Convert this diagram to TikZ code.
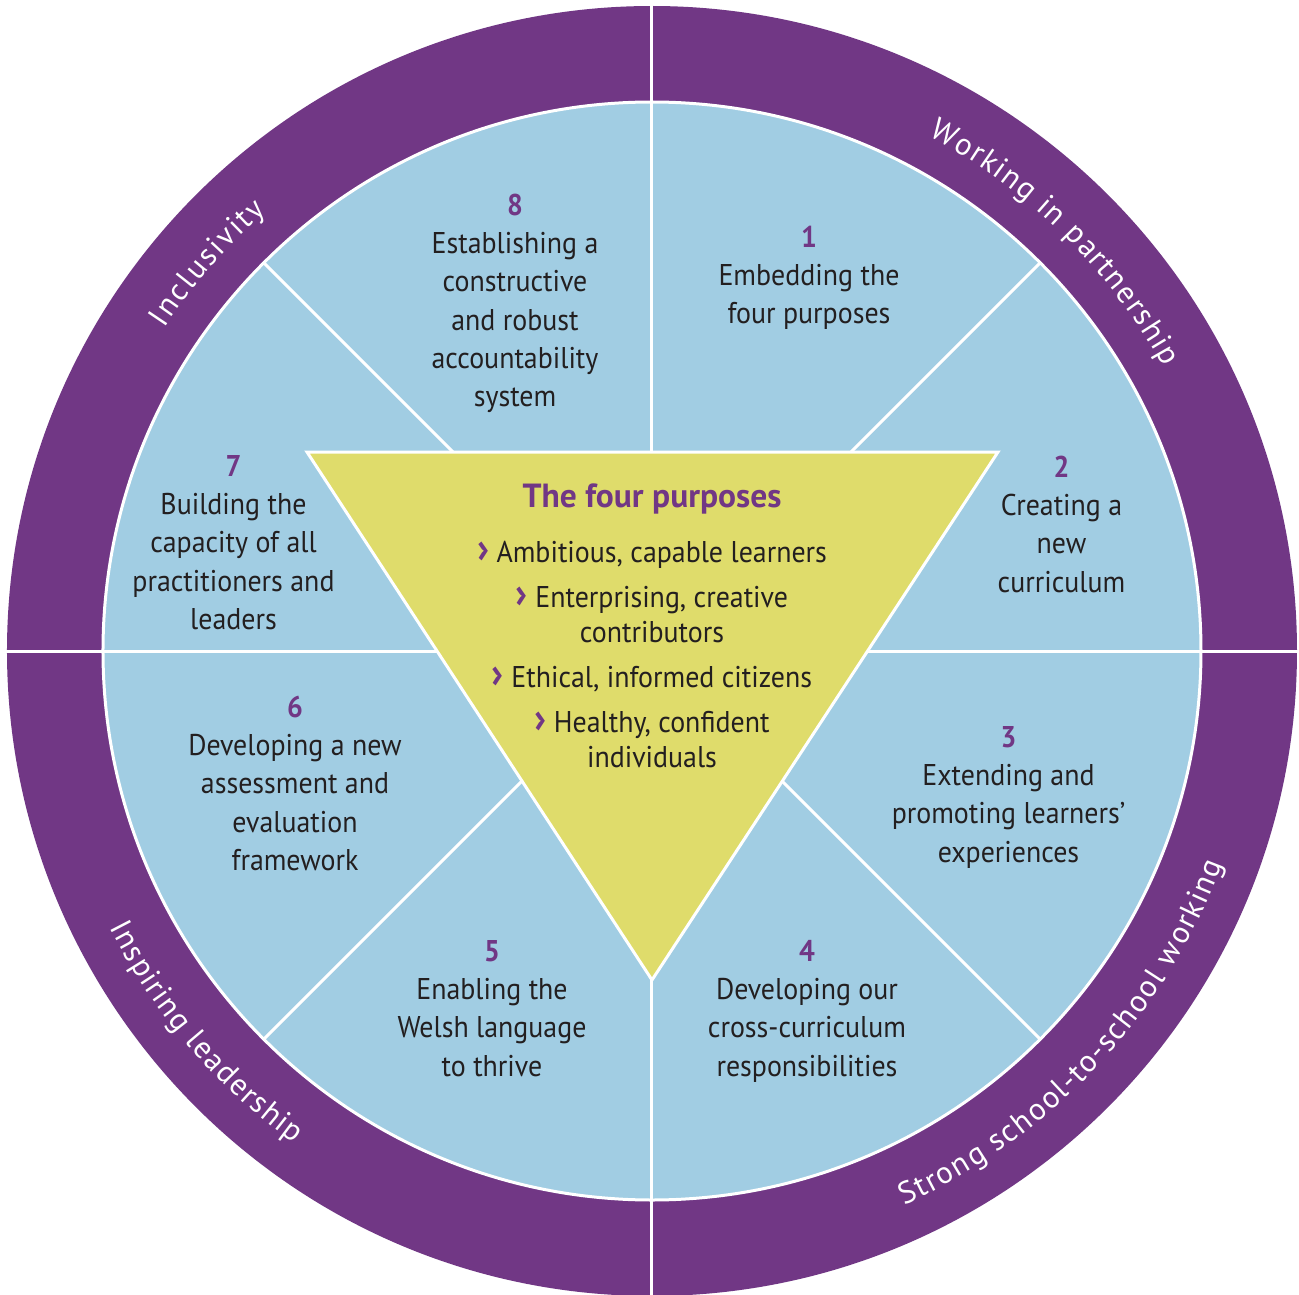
\documentclass[tikz,border=0pt]{standalone}
\usepackage{fontspec}
\setmainfont{PT Sans}[FakeStretch=0.93]
\newfontfamily\titlefam{PT Sans}
\newfontfamily\ringfam{PT Sans}
\usetikzlibrary{decorations.text}
\definecolor{ringpurple}{HTML}{713785}
\definecolor{sectorblue}{HTML}{A1CDE3}
\definecolor{triyellow}{HTML}{DFDC6B}
\definecolor{textdark}{HTML}{231F20}
\newcommand{\sectorfont}{\fontsize{30}{38.3}\selectfont}
\newcommand{\bulletfont}{\fontsize{30}{35}\selectfont}
\newcommand{\ringfont}{\ringfam\fontsize{31}{36}\selectfont}
\newcommand{\numtxt}[1]{\strut{\bfseries\color{ringpurple}#1}}
\newcommand{\chev}{{\fontsize{42}{35}\selectfont\bfseries\color{ringpurple}›}\ }
\tikzset{
  sectortext/.style={anchor=north, align=center, inner sep=0pt, font=\sectorfont, text=textdark},
  whiteline/.style={draw=white, line width=3pt},
  ringtext/.style={font=\ringfont, decorate, decoration={text effects along path, text={#1},
     text effects/.cd, fit text to path, text along path,
     characters={text=white, font=\ringfont}, character widths={font=\ringfont}}},
}
\begin{document}
\begin{tikzpicture}[x=1pt,y=1pt]
\useasboundingbox (-652,-643) rectangle (647,651);
\fill[white] (-652,-643) rectangle (647,651);
% outer ring
\fill[ringpurple] (0,0) circle[radius=645pt];
\fill[sectorblue, draw=white, line width=3pt] (0,0) circle[radius=549pt];
% dividers
\draw[whiteline] (0,-646) -- (0,646);
\draw[whiteline] (-646,0) -- (646,0);
\draw[whiteline] (135:549pt) -- (-45:549pt);
\draw[whiteline] (45:549pt) -- (225:549pt);
% triangle
\filldraw[fill=triyellow, draw=white, line width=3pt, line join=miter] (-345,199) -- (346,199) -- (0,-329) -- cycle;
% ring labels
\path[ringtext={Working in partnership}] (61.8:585pt) arc[start angle=61.8, end angle=29, radius=585pt];
\path[ringtext={Inclusivity}] (146.5:585pt) arc[start angle=146.5, end angle=131.3, radius=585pt];
\path[ringtext={Inspiring leadership}] (207:609pt) arc[start angle=207, end angle=234, radius=609pt];
\path[ringtext={Strong school-to-school working}] (-65.5:609pt) arc[start angle=-65.5, end angle=-20.5, radius=609pt];
% sector texts
\node[sectortext] (s8) at (-137,462.8) {\numtxt{8}\\\strut Establishing a\\\strut constructive\\\strut and robust\\\strut accountability\\\strut system};
\node[sectortext] (s1) at (157,430.8) {\numtxt{1}\\\strut Embedding the\\\strut four purposes};
\node[sectortext] (s2) at (409.5,200.8) {\numtxt{2}\\\strut Creating a\\\strut new\\\strut curriculum};
\node[sectortext] (s3) at (356.5,-69.2) {\numtxt{3}\\\strut Extending and\\\strut promoting learners’\\\strut experiences};
\node[sectortext] (s4) at (155,-283.2) {\numtxt{4}\\\strut Developing our\\\strut cross-curriculum\\\strut responsibilities};
\node[sectortext] (s5) at (-160,-283.2) {\numtxt{5}\\\strut Enabling the\\\strut Welsh language\\\strut to thrive};
\node[sectortext] (s6) at (-357,-39.2) {\numtxt{6}\\\strut Developing a new\\\strut assessment and\\\strut evaluation\\\strut framework};
\node[sectortext] (s7) at (-418.5,201.8) {\numtxt{7}\\\strut Building the\\\strut capacity of all\\\strut practitioners and\\\strut leaders};
% centre
\node[anchor=base, inner sep=0pt, font=\titlefam\fontsize{33.5}{38}\selectfont\bfseries, text=ringpurple] (title) at (0,144) {The four purposes};
\node[anchor=north, align=center, inner sep=0pt, font=\bulletfont, text=textdark] (purposes) at (0,113.5)
  {\strut\chev Ambitious, capable learners\\[10pt]\strut\chev Enterprising, creative\\\strut contributors\\[10pt]\strut\chev Ethical, informed citizens\\[10pt]\strut\chev Healthy, confident\\\strut individuals};
\end{tikzpicture}
\end{document}
